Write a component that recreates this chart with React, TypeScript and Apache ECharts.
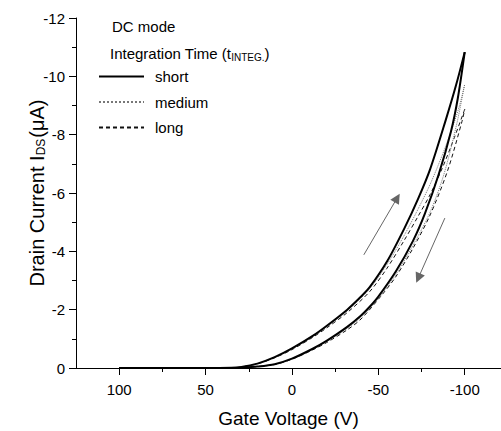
import React, { useEffect, useRef } from "react";
import * as echarts from "echarts";

const FONT = "'Liberation Sans', Arial, Helvetica, sans-serif";

const majorXTicks = [100, 50, 0, -50, -100];
const minorXTicks = [75, 25, -25, -75];

const voltsShortFwd = [100, 50, 35, 30, 20, 10, 0, -12, -20, -32, -40, -45, -55, -65, -73, -80, -89, -95, -100];
const currShortFwd = [0, 0, -0.01, -0.03, -0.15, -0.37, -0.67, -1.1, -1.44, -2.0, -2.45, -2.77, -3.65, -4.78, -5.8, -6.82, -8.5, -9.7, -10.83];

const voltsShortRev = [100, 50, 35, 30, 20, 10, 0, -12, -20, -32, -40, -45, -50, -60, -70, -77, -85, -92, -96, -100];
const currShortRev = [0, 0, 0, -0.01, -0.05, -0.13, -0.32, -0.66, -0.93, -1.41, -1.8, -2.1, -2.45, -3.3, -4.35, -5.3, -6.65, -8.1, -9.25, -10.83];

const voltsMedFwd = [100, 50, 35, 30, 20, 10, 0, -12, -20, -32, -45, -55, -65, -73, -80, -87, -92.5, -97, -100];
const currMedFwd = [0, 0, -0.01, -0.03, -0.15, -0.36, -0.65, -1.08, -1.41, -1.96, -2.72, -3.55, -4.55, -5.45, -6.3, -7.3, -8.18, -9.0, -9.73];

const voltsMedRev = [100, 50, 35, 30, 20, 10, 0, -12, -20, -32, -40, -50, -60, -70, -80, -88, -95.5, -100];
const currMedRev = [0, 0, 0, -0.01, -0.05, -0.13, -0.31, -0.64, -0.9, -1.36, -1.74, -2.38, -3.2, -4.2, -5.35, -6.65, -8.4, -9.73];

const voltsLongFwd = [100, 50, 35, 30, 20, 10, 0, -12, -20, -32, -45, -55, -65, -73, -80, -87, -94, -100];
const currLongFwd = [0, 0, -0.01, -0.03, -0.14, -0.35, -0.63, -1.05, -1.37, -1.9, -2.62, -3.42, -4.38, -5.2, -5.95, -6.85, -7.9, -8.87];

const voltsLongRev = [100, 50, 35, 30, 20, 10, 0, -12, -20, -32, -40, -52, -60, -70, -80, -90, -98.4, -100];
const currLongRev = [0, 0, 0, -0.01, -0.05, -0.12, -0.3, -0.62, -0.87, -1.31, -1.68, -2.5, -3.12, -4.1, -5.25, -6.75, -8.45, -8.87];

// sweep-direction arrows: [startV, startI, endV, endI]
const arrowUp = [-41.6, -3.88, -60.9, -5.83];
const arrowDown = [-88.5, -5.14, -73.1, -3.08];

const zip = (v: number[], c: number[]) => v.map((x, i) => [x, c[i]]);

export default function App() {
  const ref = useRef<HTMLDivElement>(null);
  useEffect(() => {
    if (!ref.current) return;
    const chart = echarts.init(ref.current, undefined, { renderer: "svg" });
    const shortStyle = { color: "#000", width: 2, type: "solid" };
    const medStyle = { color: "#777", width: 1, type: "dotted" };
    const longStyle = { color: "#111", width: 1, type: [4, 3] };
    const mk = (name: string, data: number[][], ls: any) => ({
      name,
      type: "line",
      data,
      showSymbol: false,
      symbol: "none",
      smooth: 0.3,
      lineStyle: ls,
      itemStyle: { color: ls.color },
      z: name === "short" ? 4 : 3,
    });
    const baseX = {
      type: "value",
      gridIndex: 0,
      min: -121,
      max: 125,
      inverse: true,
      position: "bottom",
      splitLine: { show: false },
    };
    chart.setOption({
      animation: false,
      grid: { left: 76, right: 0, top: 18, bottom: 63, containLabel: false, outerBoundsMode: "none" },
      xAxis: [
        {
          ...baseX,
          name: "Gate Voltage (V)",
          nameLocation: "middle",
          nameGap: 41,
          nameMoveOverlap: false,
          nameTextStyle: { fontFamily: FONT, fontSize: 19, color: "#000" },
          axisLine: { show: true, onZero: false, lineStyle: { color: "#000", width: 1 } },
          axisTick: { show: true, customValues: majorXTicks, length: 7, lineStyle: { color: "#000" } },
          axisLabel: {
            show: true,
            customValues: majorXTicks,
            margin: 14,
            fontFamily: FONT,
            fontSize: 15,
            color: "#000",
          },
        },
        {
          ...baseX,
          axisLine: { show: false, onZero: false },
          axisTick: { show: true, customValues: minorXTicks, length: 4, lineStyle: { color: "#000" } },
          axisLabel: { show: false },
        },
      ],
      yAxis: {
        type: "value",
        min: -12,
        max: 0,
        interval: 2,
        inverse: true,
        name: "Drain Current I{sub|DS}(μA)",
        nameLocation: "middle",
        nameRotate: 90,
        nameGap: 29,
        nameMoveOverlap: false,
        nameTextStyle: {
          fontFamily: FONT,
          fontSize: 20,
          color: "#000",
          rich: {
            sub: { fontFamily: FONT, fontSize: 12, color: "#000", padding: [9, 1, 0, 0] },
          },
        },
        axisLine: { show: true, onZero: false, lineStyle: { color: "#000", width: 1 } },
        axisTick: { show: true, length: 7, lineStyle: { color: "#000" } },
        minorTick: { show: true, splitNumber: 2, length: 4, lineStyle: { color: "#000" } },
        splitLine: { show: false },
        axisLabel: { margin: 11, fontFamily: FONT, fontSize: 15, color: "#000" },
      },
      legend: {
        data: ["short", "medium", "long"],
        orient: "vertical",
        left: 98,
        top: 69,
        padding: 0,
        itemWidth: 45,
        itemHeight: 14,
        itemGap: 10.5,
        itemStyle: { opacity: 0 },
        textStyle: { fontFamily: FONT, fontSize: 15, color: "#000", padding: [0, 0, 0, 6] },
        selectedMode: false,
      },
      graphic: [
        {
          type: "text",
          left: 112,
          top: 19,
          style: { text: "DC mode", font: `15px ${FONT}`, fill: "#000" },
        },
        {
          type: "text",
          left: 110,
          top: 46,
          style: {
            text: "Integration Time (t{sub|INTEG.})",
            font: `15px ${FONT}`,
            fill: "#000",
            rich: {
              sub: { fontSize: 10, fontFamily: FONT, fill: "#000", padding: [8, 0, 0, 0] },
            },
          },
        },
      ],
      series: [
        mk("long", zip(voltsLongFwd, currLongFwd), longStyle),
        mk("long", zip(voltsLongRev, currLongRev), longStyle),
        mk("medium", zip(voltsMedFwd, currMedFwd), medStyle),
        mk("medium", zip(voltsMedRev, currMedRev), medStyle),
        mk("short", zip(voltsShortFwd, currShortFwd), shortStyle),
        mk("short", zip(voltsShortRev, currShortRev), shortStyle),
        {
          type: "lines",
          coordinateSystem: "cartesian2d",
          silent: true,
          symbol: ["none", "triangle"],
          symbolSize: [7, 10],
          lineStyle: { color: "#666", width: 1, opacity: 1, curveness: 0 },
          itemStyle: { color: "#000" },
          data: [
            { coords: [[arrowUp[0], arrowUp[1]], [arrowUp[2], arrowUp[3]]] },
            { coords: [[arrowDown[0], arrowDown[1]], [arrowDown[2], arrowDown[3]]] },
          ],
        },
      ],
    });
    return () => chart.dispose();
  }, []);
  return <div ref={ref} style={{ width: 501, height: 431, position: "absolute", left: 0, top: 0 }} />;
}
